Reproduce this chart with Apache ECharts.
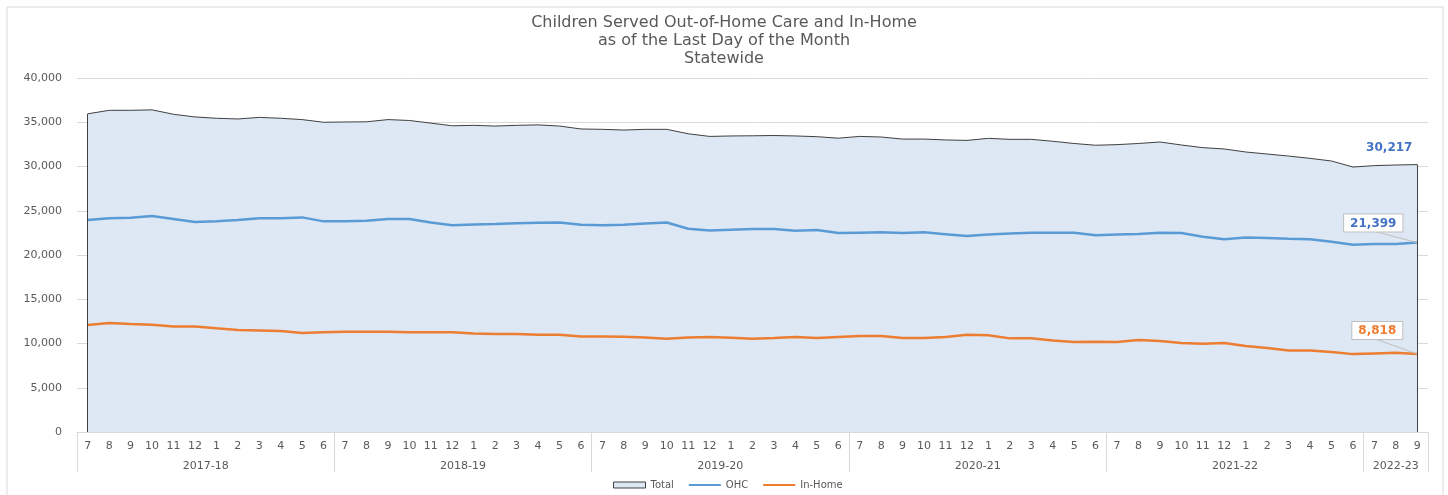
<!DOCTYPE html>
<html>
<head>
<meta charset="utf-8">
<script src="https://cdn.jsdelivr.net/npm/echarts@6/dist/echarts.min.js"></script>
<style>
html,body{margin:0;padding:0;background:#fff;}
#chart{width:1448px;height:495px;}
</style>
</head>
<body>
<div id="chart"></div>
<script>
var titleLines = ['Children Served Out-of-Home Care and In-Home', 'as of the Last Day of the Month', 'Statewide'];

var monthLabels = [
  '7','8','9','10','11','12','1','2','3','4','5','6',
  '7','8','9','10','11','12','1','2','3','4','5','6',
  '7','8','9','10','11','12','1','2','3','4','5','6',
  '7','8','9','10','11','12','1','2','3','4','5','6',
  '7','8','9','10','11','12','1','2','3','4','5','6',
  '7','8','9'
];
var yearLabels = ['2017-18', '2018-19', '2019-20', '2020-21', '2021-22', '2022-23'];
var yearCounts = [12, 12, 12, 12, 12, 3];

var totalValues = [
  35950, 36350, 36350, 36400, 35900, 35600, 35450, 35370, 35550, 35450, 35300, 35000,
  35030, 35050, 35300, 35200, 34900, 34600, 34650, 34570, 34650, 34700, 34570, 34240,
  34200, 34120, 34200, 34200, 33700, 33400, 33450, 33470, 33500, 33450, 33370, 33200,
  33400, 33330, 33100, 33100, 33000, 32950, 33180, 33070, 33070, 32850, 32600, 32400,
  32470, 32600, 32770, 32430, 32130, 31980, 31640, 31410, 31180, 30920, 30620, 29940,
  30100, 30170, 30217
];
var ohcValues = [
  23950, 24140, 24210, 24400, 24060, 23720, 23800, 23950, 24140, 24140, 24250, 23800,
  23800, 23870, 24060, 24060, 23670, 23350, 23460, 23500, 23580, 23650, 23670, 23420,
  23350, 23420, 23570, 23670, 22970, 22770, 22860, 22930, 22930, 22750, 22820, 22480,
  22520, 22560, 22480, 22560, 22350, 22140, 22330, 22440, 22520, 22520, 22520, 22220,
  22330, 22370, 22520, 22480, 22070, 21770, 21990, 21920, 21840, 21770, 21500, 21170,
  21240, 21240, 21399
];
var inHomeValues = [
  12080, 12310, 12200, 12120, 11930, 11930, 11710, 11520, 11480, 11400, 11180, 11260,
  11330, 11330, 11330, 11260, 11260, 11260, 11140, 11070, 11070, 10990, 10990, 10800,
  10800, 10770, 10690, 10540, 10690, 10730, 10650, 10540, 10620, 10730, 10620, 10730,
  10840, 10840, 10620, 10620, 10730, 10990, 10920, 10580, 10580, 10350, 10160, 10200,
  10160, 10390, 10270, 10050, 9970, 10050, 9710, 9480, 9220, 9220, 9030, 8800,
  8880, 8960, 8818
];
var yTicks = { min: 0, max: 40000, interval: 5000 };

var FONT = 'DejaVu Sans';
var GRAY = '#595959';
var LIGHT = '#d9d9d9';
var fmt = function (v) { return Number(v).toLocaleString('en-US'); };

// Secondary (fiscal year) axis: half-step positions across the category band
var nHalf = monthLabels.length * 2 + 1;
var yearAxisData = [];
for (var i = 0; i < nHalf; i++) yearAxisData.push('');
var boundaries = {};
var start = 0;
for (var g = 0; g < yearLabels.length; g++) {
  boundaries[start * 2] = true;
  yearAxisData[start * 2 + yearCounts[g]] = yearLabels[g];
  start += yearCounts[g];
}
boundaries[start * 2] = true;

var last = monthLabels.length - 1;
function withEndLabel(values, labelCfg, withLine) {
  return values.map(function (v, i) {
    if (i !== last) return v;
    var item = { value: v, label: labelCfg };
    if (withLine) { item.labelLine = { show: true, smooth: false, length2: 0, lineStyle: { color: '#bfbfbf', width: 1 } }; }
    return item;
  });
}

var chart = echarts.init(document.getElementById('chart'), null, { renderer: 'canvas' });
chart.setOption({
  animation: false,
  backgroundColor: '#fff',
  textStyle: { fontFamily: FONT },
  graphic: [{
    type: 'rect', shape: { x: 7, y: 7, width: 1436, height: 500 },
    style: { fill: 'none', stroke: LIGHT, lineWidth: 1 }, silent: true, z: -10
  }],
  title: {
    text: titleLines.join('\n'),
    left: 'center', top: 9,
    textStyle: { fontFamily: FONT, fontSize: 16, fontWeight: 'normal', color: GRAY, lineHeight: 18 }
  },
  legend: {
    left: 608, bottom: 0,
    itemWidth: 32, itemHeight: 6, itemGap: 14,
    textStyle: { fontFamily: FONT, fontSize: 10, color: GRAY },
    data: [
      { name: 'Total', icon: 'rect', itemStyle: { color: '#dde8f4', borderColor: '#404040', borderWidth: 1 } },
      { name: 'OHC', itemStyle: { opacity: 0 } },
      { name: 'In-Home', itemStyle: { opacity: 0 } }
    ]
  },
  grid: { left: 77, right: 20, top: 78, bottom: 63, containLabel: false },
  xAxis: [{
    type: 'category', data: monthLabels, boundaryGap: true, position: 'bottom',
    axisLine: { show: true, lineStyle: { color: LIGHT, width: 1 } },
    axisTick: { show: false },
    axisLabel: { interval: 0, margin: 9, fontFamily: FONT, fontSize: 11, color: GRAY },
    splitLine: { show: false }
  }, {
    type: 'category', data: yearAxisData, boundaryGap: false, position: 'bottom',
    axisLine: { show: false },
    axisTick: {
      show: true, length: 40, inside: false,
      interval: function (idx) { return !!boundaries[idx]; },
      lineStyle: { color: LIGHT, width: 1 }
    },
    axisLabel: { interval: 0, margin: 29, fontFamily: FONT, fontSize: 11, color: GRAY },
    splitLine: { show: false }
  }],
  yAxis: {
    type: 'value', min: yTicks.min, max: yTicks.max, interval: yTicks.interval,
    axisLine: { show: false }, axisTick: { show: false },
    axisLabel: { formatter: fmt, margin: 15, fontFamily: FONT, fontSize: 11, color: GRAY },
    splitLine: { lineStyle: { color: LIGHT, width: 1 } }
  },
  series: [{
    name: 'Total', type: 'line', xAxisIndex: 0,
    data: withEndLabel(totalValues, {
      show: true, position: 'top', offset: [-28, -6], formatter: function (p) { return fmt(p.value); },
      fontFamily: FONT, fontSize: 12, fontWeight: 'bold', color: '#4472c4'
    }, false),
    symbol: 'circle', symbolSize: 0, showSymbol: true, smooth: false,
    lineStyle: { color: '#404040', width: 1 },
    itemStyle: { color: '#dde8f4', borderColor: '#404040', borderWidth: 0 },
    areaStyle: { color: '#dde8f4', opacity: 1 },
    markLine: {
      symbol: 'none', silent: true, label: { show: false },
      lineStyle: { color: '#404040', width: 1, type: 'solid' },
      data: [
        [{ coord: [0, 0] }, { coord: [0, totalValues[0]] }],
        [{ coord: [last, 0] }, { coord: [last, totalValues[last]] }]
      ]
    },
    z: 1
  }, {
    name: 'OHC', type: 'line', xAxisIndex: 0,
    data: withEndLabel(ohcValues, {
      show: true, position: 'top', formatter: function (p) { return fmt(p.value); },
      fontFamily: FONT, fontSize: 12, fontWeight: 'bold', color: '#4472c4',
      backgroundColor: '#fff', borderColor: '#bfbfbf', borderWidth: 1, padding: [3, 6, 2, 6]
    }, true),
    labelLayout: function (p) { return p.dataIndex === last ? { dx: -44, dy: -6 } : {}; },
    symbol: 'circle', symbolSize: 0, showSymbol: true, smooth: false,
    lineStyle: { color: '#5b9bd5', width: 2.5 },
    itemStyle: { color: '#5b9bd5', borderWidth: 0 },
    z: 3
  }, {
    name: 'In-Home', type: 'line', xAxisIndex: 0,
    data: withEndLabel(inHomeValues, {
      show: true, position: 'top', formatter: function (p) { return fmt(p.value); },
      fontFamily: FONT, fontSize: 12, fontWeight: 'bold', color: '#ed7d31',
      backgroundColor: '#fff', borderColor: '#bfbfbf', borderWidth: 1, padding: [3, 6, 2, 6]
    }, true),
    labelLayout: function (p) { return p.dataIndex === last ? { dx: -40, dy: -10 } : {}; },
    symbol: 'circle', symbolSize: 0, showSymbol: true, smooth: false,
    lineStyle: { color: '#ed7d31', width: 2.5 },
    itemStyle: { color: '#ed7d31', borderWidth: 0 },
    z: 3
  }]
});
</script>
</body>
</html>
